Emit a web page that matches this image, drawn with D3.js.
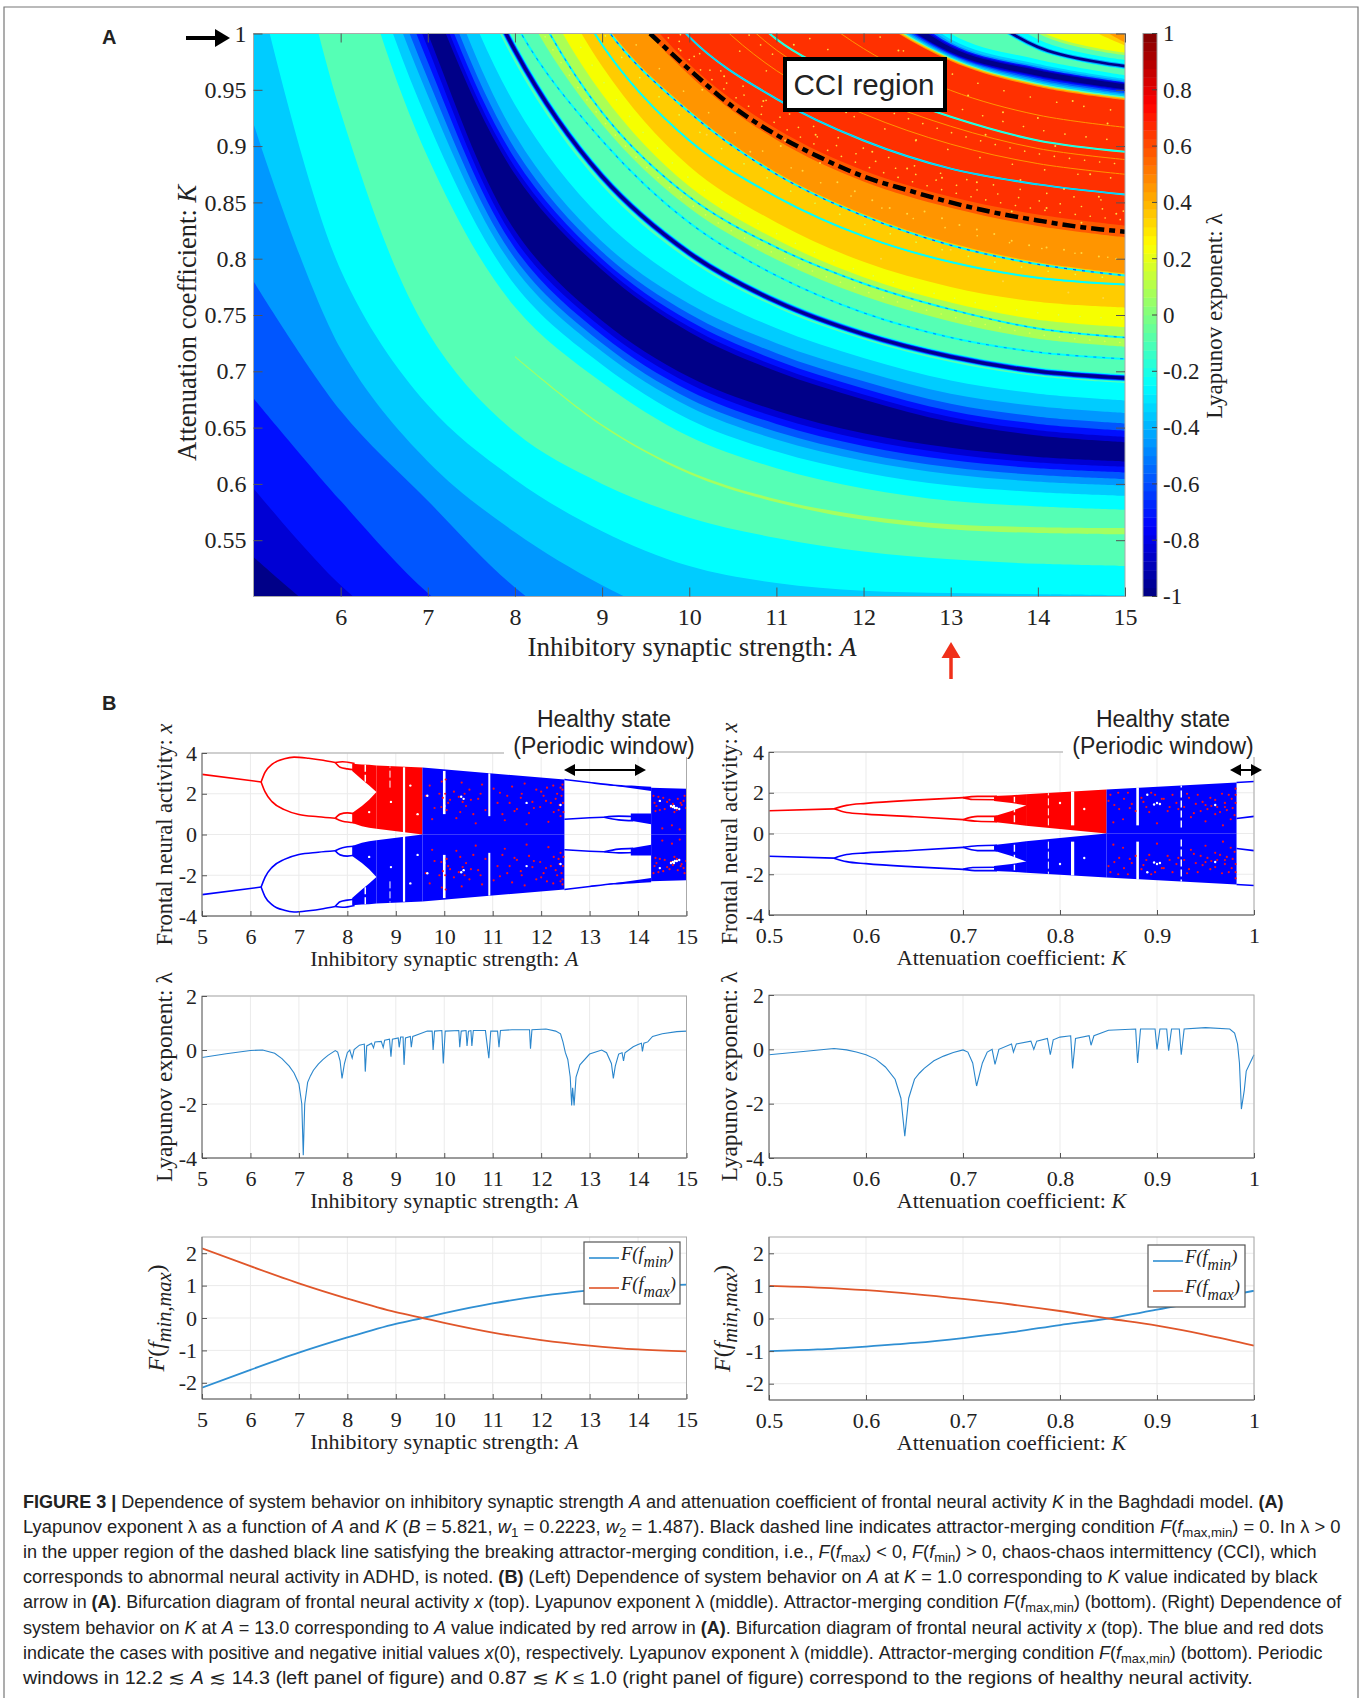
<!DOCTYPE html>
<html><head><meta charset="utf-8">
<script src="https://cdnjs.cloudflare.com/ajax/libs/d3/7.8.5/d3.min.js"></script>
<style>
html,body{margin:0;padding:0;background:#fff}
svg{display:block}
text{font-family:"Liberation Serif",serif;fill:#222}
.sans{font-family:"Liberation Sans",Arial,sans-serif}
</style></head><body><div id="c"></div>
<script>
// ---------- DATA: panel A, iso-curves of the parameter plane ----------
const isoA=[5,6,7,8,9,10,11,12,13,14,15];
const isoU=[1,2,3,4,4.7,5.27,5.725,6.25,6.45,6.97,7.2,7.48,7.9,8.09,8.37,8.65,8.9,9.15,9.55,9.97,10.9,12.45,12.65,13,13.5,14.05,14.83,15];
const isoK=[
[.535,.47,.42,.38,.35,.33,.32,.31,.31,.31,.31],
[.596,.51,.45,.405,.375,.35,.34,.33,.33,.33,.33],
[.676,.585,.503,.445,.405,.38,.365,.355,.35,.35,.35],
[.78,.665,.585,.508,.455,.42,.40,.39,.38,.38,.38],
[.92,.72,.62,.557,.51,.475,.45,.43,.42,.415,.41],
[1.06,.79,.67,.604,.558,.527,.512,.505,.503,.502,.501],
[1.25,.93,.735,.646,.6,.57,.552,.54,.533,.529,.527],
[1.35,1.05,.85,.713,.652,.61,.585,.57,.562,.559,.558],
[1.5,1.12,.89,.757,.69,.642,.614,.596,.585,.58,.577],
[1.6,1.22,1.0,.825,.745,.695,.665,.645,.632,.624,.62],
[1.65,1.28,1.04,.875,.79,.735,.70,.675,.655,.643,.637],
[1.7,1.33,1.09,.91,.815,.76,.725,.70,.68,.669,.663],
[1.85,1.45,1.17,.985,.873,.805,.762,.733,.713,.70,.694],
[1.9,1.5,1.22,1.01,.905,.832,.785,.752,.73,.717,.711],
[1.95,1.55,1.28,1.06,.93,.855,.81,.778,.755,.738,.73],
[2.0,1.6,1.33,1.11,.965,.875,.825,.79,.768,.755,.75],
[2.05,1.65,1.37,1.15,.99,.905,.855,.82,.797,.783,.777],
[2.1,1.7,1.41,1.18,1.01,.93,.875,.838,.812,.795,.785],
[2.2,1.75,1.46,1.23,1.06,.968,.91,.873,.85,.834,.824],
[2.3,1.8,1.5,1.28,1.11,.997,.942,.905,.88,.866,.857],
[2.4,1.9,1.6,1.36,1.2,1.08,.995,.955,.926,.905,.895],
[2.6,2.1,1.8,1.55,1.35,1.2,1.11,1.025,.978,.955,.943],
[2.65,2.15,1.85,1.58,1.38,1.23,1.13,1.04,.985,.965,.953],
[2.7,2.2,1.9,1.62,1.42,1.27,1.16,1.08,1.0,.977,.963],
[2.8,2.3,1.95,1.68,1.48,1.32,1.21,1.12,1.04,.988,.971],
[2.9,2.4,2.0,1.72,1.52,1.36,1.25,1.16,1.08,1.003,.983],
[3.0,2.5,2.1,1.78,1.58,1.42,1.3,1.21,1.12,1.04,.992],
[3.1,2.6,2.2,1.85,1.62,1.46,1.34,1.25,1.16,1.08,1.0]];
const levelColors=["#000088","#0000d4","#0010ff","#0056ff","#0098ff","#00ccff","#00ffff","#55ffb5","#aaff55","#f6ff00","#ffcc00","#ff9500","#ff5a00","#ff3000"];
const bandU=[1,2,3,4,4.7,5.27,5.725,6.45,6.6,6.71,6.78,6.85,6.91,6.97,7.2,7.25,7.31,7.38,7.48,7.63,7.84,8.25,8.5,8.71,9.17,9.5,9.62,12.38,12.41,12.44,12.47,12.5,12.53,12.56,12.58,12.6,12.72,12.75,12.78,12.82,12.88,13,13.45,13.75,13.95,14.05,14.6,14.83];
const bandLevel=[1,2,3,4,5,6,7,6,5,4,3,2,1,0,1,2,3,4,5,6,7,8,9,10,11,12,13,11,10,7,5,4,3,2,1,0,1,2,4,5,6,7,6,7,8,9,10,11];
// faint line along u = 6.25
const faintA=[8,9,10,11,12,13,14,15];
const faintW=[.0005,.0008,.0011,.0014,.0018,.0022,.0026,.0028];
// thin dips drawn along iso-curves: u, halo level, core level
const dipU=[8.09,8.37,8.9,9.15,9.97,10.9];
const dipHalo=[6,6,6,6,6,7];
const dipCore=[4,4,6,3,5,6];
const stripeU=[10.41,10.73,11.6];
const dotU=[8.3,8.6,9.05,9.3,9.68,9.78,9.88,10.3,10.62,11.2,12.05];
const specA=[9.9,10.15,10.4,10.6,10.85,11.1,11.3,11.5,11.7,11.9,12.1,12.3,12.5,12.7,12.9,13.1,13.3,13.5,13.7,13.9,14.1,14.3,14.5,14.7,14.9,11.6,12,12.4,12.8,13.2,13.6,14,14.4,14.8,11.2,11.8,12.6,13.4,14.2,14.6,13.8,14.3,14.7,13.7,14.1,14.5,14.9,13.3,12.9,12.5,12.1,10.7,11.05,11.45,10.2,13.6,14.35,14.75,12.2,13];
const specK=[.985,.95,.962,.93,.94,.905,.878,.885,.868,.86,.852,.845,.84,.842,.836,.83,.826,.822,.816,.812,.81,.808,.805,.802,.8,.975,.965,.985,.96,.945,.93,.925,.94,.92,.99,.93,.905,.91,.9,.875,.87,.862,.855,.842,.845,.832,.84,.868,.872,.88,.895,.895,.9,.91,.91,.78,.77,.765,.8,.808];
const dashA=[9.55,10,10.5,11,11.5,12,12.5,13,13.5,14,14.5,15];
const dashK=[1,.968,.935,.91,.89,.873,.861,.85,.841,.834,.828,.824];
const heatXTicks=[6,7,8,9,10,11,12,13,14,15];
const heatYTicks=[.55,.6,.65,.7,.75,.8,.85,.9,.95,1];
const cbarTicks=[-1,-.8,-.6,-.4,-.2,0,.2,.4,.6,.8,1];
const jetStops=[-1,-.75,-.25,.25,.75,1];
const jetColors=["#000080","#0000ff","#00ffff","#ffff00","#ff0000","#800000"];

// ---------- DATA: panel B bifurcation, A axis ----------
const lStemA=[5,6.22], lStemX=[2.95,2.58];
const lUpA=[6.22,6.3,6.45,6.7,6.9,7.2,7.5,7.75], lUpX=[2.58,3.05,3.45,3.72,3.8,3.74,3.64,3.53];
const lLoA=[6.22,6.3,6.45,6.7,7,7.4,7.75], lLoX=[2.58,2.1,1.6,1.22,.98,.87,.8];
const lEye1A=[7.75,7.9,8.15], lEye1X=[3.53,3.57,3.48];
const lEye2A=[7.75,7.85,8,8.15], lEye2X=[3.53,3.3,3.22,3.18];
const lEye3A=[7.75,7.85,8,8.15], lEye3X=[.8,1.0,1.06,1.02];
const lEye4A=[7.75,7.9,8.15], lEye4X=[.8,.65,.58];
const lBandA=[8.1,8.3,8.45,8.6];
const lBandTopHi=[3.47,3.44,3.42,3.39], lBandTopLo=[3.12,2.7,2.4,2.09];
const lBandBotHi=[1.05,1.4,1.7,2.09], lBandBotLo=[.56,.4,.33,.28];
const lMainA=[8.6,9.55], lMainHi=[3.39,3.29], lMainLo=[.28,0];
const lFullA=[9.55,12.48], lFullHi=[3.29,2.7];
const lWinOutA=[12.48,13,13.5,14,14.27], lWinOutX=[2.7,2.55,2.42,2.34,2.3];
const lWinEdgeA=[13.3,13.8,14.27], lWinEdgeHi=[2.48,2.36,2.3], lWinEdgeLo=[2.46,2.3,2.13];
const lWinInA=[12.48,13,13.3], lWinInX=[.75,.82,.85];
const lWinEye1A=[13.3,13.6,13.9], lWinEye1X=[.85,.9,.88];
const lWinEye2A=[13.3,13.6,13.9], lWinEye2X=[.85,.72,.68];
const lWinBandA=[13.85,14.27], lWinBandHi=[1.03,1.03], lWinBandLo=[.68,.5];
const lTailA=[14.27,15], lTailHi=[2.3,2.24];
const lStripeA=[8.37,8.88,9.17,10,10.93], lStripeLo=[2.1,2.3,.06,1,.9], lStripeHi=[3.42,3.34,3.3,3.12,3.0], lStripeW=[1.5,1,2.2,2.6,2];
const lRedA=[9.62,9.7,9.8,9.9,9.95,10.05,10.12,10.2,10.3,10.36,10.45,10.52,10.6,10.7,10.78,10.85,11.02,11.1,11.2,11.3,11.4,11.5,11.58,11.66,11.75,11.82,11.9,11.98,12.05,12.12,12.2,12.26,12.33,12.38,12.44,14.32,14.38,14.45,14.52,14.6,14.68,14.75,14.82,14.9,14.96,9.75,10.25,10.65,11.25,11.7,12.15,12.4,9.97,10.03,10.08,10.38,10.42,10.33,10.02,9.94,11.45,11.6,11.85,12.1,12.3,12.42,12.45,12.46,12.44,12.4,12.36,12.25,12.0,11.35,11.15,10.75,10.55,14.34,14.42,14.55,14.65,14.72,14.8,14.88,14.94,14.99,14.36,14.5,14.7,14.86];
const lRedX=[1.9,2.4,1.3,2.0,2.6,1.2,1.7,2.1,1.85,2.55,1.4,2.2,1.0,1.75,2.45,1.2,2.25,1.55,1.0,1.9,2.35,1.25,1.8,2.5,1.05,1.6,2.2,1.35,1.9,2.3,1.55,1.1,2.0,1.45,2.45,1.9,1.4,1.2,1.8,1.6,1.35,1.1,1.75,1.45,1.9,.75,.8,.55,.7,.5,.62,.9,1.8,2.7,1.55,1.6,2.0,1.1,2.0,1.35,1.15,2.0,1.3,1.65,1.75,1.9,1.55,1.1,2.2,2.3,1.2,2.4,2.1,1.55,2.05,2.0,1.7,1.55,1.85,1.25,1.7,1.5,1.2,1.55,1.65,1.3,1.15,.3,.45,.25,.15];
const lWhiteA=[9.65,10,10.35,10.4,11.7,12.4,14.72,14.76,14.68,14.45,14.85,14.74,14.8,8.45,8.9,9.3,9.45];
const lWhiteX=[1.9,1.4,1.85,1.75,1.55,1.45,1.35,1.3,1.4,1.65,1.25,1.4,1.3,1.1,1.6,2.4,1.0];
// ---------- DATA: panel B bifurcation, K axis ----------
const rStemK=[.5,.567], rStemX=[1.12,1.21];
const rUpK=[.567,.58,.6,.65,.7], rUpX=[1.21,1.38,1.48,1.64,1.76];
const rLoK=[.567,.58,.6,.65,.7], rLoX=[1.21,1.03,.95,.82,.68];
const rEye1K=[.7,.715,.735], rEye1X=[1.76,1.82,1.82];
const rEye2K=[.7,.71,.735], rEye2X=[1.76,1.67,1.66];
const rEye3K=[.7,.715,.735], rEye3X=[.68,.84,.84];
const rEye4K=[.7,.715,.735], rEye4X=[.68,.6,.58];
const rBandK=[.732,.75,.765];
const rBandTopHi=[1.84,1.88,1.93], rBandTopLo=[1.6,1.5,1.38];
const rBandBotHi=[.85,1.1,1.38], rBandBotLo=[.56,.47,.38];
const rMainK=[.765,.848], rMainHi=[1.93,2.16], rMainLo=[.38,0];
const rFullK=[.848,.982], rFullHi=[2.16,2.5];
const rWinOutK=[.982,1], rWinOutX=[2.5,2.55];
const rWinInK=[.982,1], rWinInX=[.74,.84];
const rStripeK=[.753,.788,.813,.88,.925], rStripeLo=[.55,.4,.4,.4,.3], rStripeHi=[1.8,1.98,2.06,2.26,2.35], rStripeW=[1.4,1,3.2,2.6,1.4];
const rRedK=[.852,.856,.861,.866,.87,.874,.878,.884,.889,.894,.898,.903,.907,.911,.916,.92,.928,.933,.938,.942,.947,.952,.956,.96,.965,.97,.974,.978,.98,.855,.865,.9,.935,.95,.968,.976,.85,.86,.872,.886,.892,.905,.913,.922,.931,.94,.945,.955,.962,.967,.972,.977,.981,.981,.981,.95,.96,.97];
const rRedX=[1.9,1.4,1.2,1.7,2.0,1.45,1.1,1.75,1.3,2.0,1.9,1.45,1.7,1.1,1.9,1.5,1.3,1.75,1.0,1.9,1.55,1.2,1.35,1.65,1.05,1.5,1.9,1.25,.9,.55,.7,.5,.8,.6,.4,.7,1.6,2.0,1.25,1.55,1.05,1.7,1.3,1.2,1.95,1.45,1.1,1.75,1.3,1.95,1.15,1.7,1.5,1.9,2.2,1.4,.95,1.3];
const rWhiteK=[.9,.903,.897,.89,.96,.825,.8];
const rWhiteX=[1.5,1.45,1.42,1.9,1.4,1.2,1.5];

// ---------- DATA: Lyapunov lines ----------
const lyA=[5,5.5,6,6.25,6.5,6.65,6.8,6.9,7,7.06,7.09,7.12,7.18,7.24,7.3,7.4,7.5,7.6,7.75,7.8,7.85,7.89,7.94,8,8.05,8.1,8.14,8.25,8.35,8.37,8.4,8.5,8.54,8.57,8.7,8.74,8.77,8.87,8.9,8.93,9.05,9.07,9.1,9.15,9.17,9.2,9.3,9.32,9.35,9.5,9.65,9.75,9.77,9.8,9.95,9.98,10.02,10.3,10.32,10.35,10.45,10.47,10.5,10.55,10.57,10.6,10.85,10.92,10.96,11.1,11.13,11.16,11.4,11.76,11.78,11.81,12.1,12.3,12.4,12.45,12.5,12.55,12.6,12.63,12.65,12.68,12.72,12.8,13,13.25,13.35,13.45,13.49,13.53,13.6,13.67,13.7,13.73,13.9,14,14.07,14.09,14.12,14.2,14.3,14.5,14.8,15];
const lyAVal=[-.28,-.14,-.02,0,-.12,-.32,-.6,-.85,-1.25,-2,-3.9,-2,-1.2,-.95,-.75,-.52,-.35,-.2,-.02,-.08,-.4,-1.05,-.5,-.1,0,-.3,.02,.18,.22,-.8,.15,.25,.08,.3,.32,.1,.36,.4,-.25,.4,.45,.1,.48,.48,-.55,.45,.5,.1,.5,.6,.7,.7,0,.7,.72,-.5,.7,.72,.1,.7,.72,.15,.7,.72,.15,.72,.72,-.3,.7,.7,.1,.72,.75,.75,.05,.75,.78,.7,.6,.3,-.1,-.35,-1,-2.05,-1.4,-2.05,-1,-.55,-.15,0,-.1,-.5,-1.05,-.6,-.15,-.1,-.4,-.1,.12,.2,.25,-.05,.25,.3,.5,.6,.68,.7];
const lyK=[.5,.53,.567,.58,.59,.6,.61,.62,.63,.636,.64,.644,.65,.655,.66,.67,.68,.69,.7,.705,.71,.714,.72,.725,.73,.733,.737,.75,.752,.755,.77,.773,.776,.787,.79,.793,.8,.811,.813,.816,.83,.832,.835,.85,.878,.88,.883,.898,.9,.903,.91,.912,.915,.923,.925,.928,.95,.975,.98,.983,.985,.987,.99,.992,1];
const lyKVal=[-.2,-.1,.03,-.02,-.1,-.2,-.36,-.65,-1.1,-1.8,-3.2,-1.8,-1.1,-.88,-.7,-.42,-.25,-.12,-.02,-.1,-.5,-1.35,-.5,-.1,0,-.55,0,.2,-.1,.2,.3,0,.3,.4,-.2,.35,.45,.5,-.7,.4,.5,.15,.5,.7,.75,-.5,.75,.75,0,.75,.75,-.05,.75,.75,-.2,.75,.8,.75,.6,.2,-.5,-2.2,-1.5,-.8,-.2];
// ---------- DATA: attractor-merging lines ----------
const fA=[5,6,7,8,9,9.55,10,11,12,13,14,15];
const fAMin=[-2.15,-1.6,-1.07,-.6,-.18,0,.15,.45,.68,.85,.97,1.03];
const fAMax=[2.15,1.6,1.07,.6,.18,0,-.15,-.45,-.68,-.85,-.97,-1.03];
const fK=[.5,.55,.6,.65,.7,.75,.8,.85,.9,.95,1];
const fKMin=[-1,-.95,-.86,-.75,-.6,-.42,-.2,0,.27,.57,.85];
const fKMax=[1,.95,.87,.75,.6,.43,.23,0,-.22,-.5,-.83];
const aTicks=[5,6,7,8,9,10,11,12,13,14,15];
const kTicks=[.5,.6,.7,.8,.9,1];
const captionLines=[
"<b>FIGURE 3 |</b> Dependence of system behavior on inhibitory synaptic strength <i>A</i> and attenuation coefficient of frontal neural activity <i>K</i> in the Baghdadi model. <b>(A)</b>",
"Lyapunov exponent λ as a function of <i>A</i> and <i>K</i> (<i>B</i> = 5.821, <i>w</i><s>1</s> = 0.2223, <i>w</i><s>2</s> = 1.487). Black dashed line indicates attractor-merging condition <i>F</i>(<i>f</i><s>max,min</s>) = 0. In λ > 0",
"in the upper region of the dashed black line satisfying the breaking attractor-merging condition, i.e., <i>F</i>(<i>f</i><s>max</s>) < 0, <i>F</i>(<i>f</i><s>min</s>) > 0, chaos-chaos intermittency (CCI), which",
"corresponds to abnormal neural activity in ADHD, is noted. <b>(B)</b> (Left) Dependence of system behavior on <i>A</i> at <i>K</i> = 1.0 corresponding to <i>K</i> value indicated by black",
"arrow in <b>(A)</b>. Bifurcation diagram of frontal neural activity <i>x</i> (top). Lyapunov exponent λ (middle). Attractor-merging condition <i>F</i>(<i>f</i><s>max,min</s>) (bottom). (Right) Dependence of",
"system behavior on <i>K</i> at <i>A</i> = 13.0 corresponding to <i>A</i> value indicated by red arrow in <b>(A)</b>. Bifurcation diagram of frontal neural activity <i>x</i> (top). The blue and red dots",
"indicate the cases with positive and negative initial values <i>x</i>(0), respectively. Lyapunov exponent λ (middle). Attractor-merging condition <i>F</i>(<i>f</i><s>max,min</s>) (bottom). Periodic",
"windows in 12.2 ≲ <i>A</i> ≲ 14.3 (left panel of figure) and 0.87 ≲ <i>K</i> ≤ 1.0 (right panel of figure) correspond to the regions of healthy neural activity."];
const captionEnd=[1285,1341,1317,1318,1342,1325,1323,1253];

// ---------- DRAW ----------
const W=1362,H=1698;
const svg=d3.select("#c").append("svg").attr("width",W).attr("height",H);
const defs=svg.append("defs");
let clipN=0;
function clip(r){const id="cl"+(clipN++);defs.append("clipPath").attr("id",id).append("rect").attr("x",r.x0).attr("y",r.y0).attr("width",r.x1-r.x0).attr("height",r.y1-r.y0);return id;}
function rich(sel,str){
  const parts=str.split(/(<b>.*?<\/b>|<i>.*?<\/i>|<s>.*?<\/s>|<u>.*?<\/u>)/).filter(d=>d);
  let pend=0;
  parts.forEach(p=>{
    const m=p.match(/^<(b|i|s|u)>(.*)<\/\1>$/);
    const t=sel.append("tspan").text(m?m[2]:p);
    if(pend){t.attr("dy",pend);pend=0;}
    if(m&&m[1]=="b")t.attr("font-weight","bold");
    if(m&&m[1]=="i")t.attr("font-style","italic");
    if(m&&m[1]=="s"){t.attr("font-size","0.72em").attr("dy",4);pend=-4;}
    if(m&&m[1]=="u"){t.attr("font-size","0.85em").attr("font-style","italic").attr("dy",7);pend=-7;}
  });
}
function fmt(d){return String(+d.toFixed(2));}

// Frame
svg.append("path").attr("d",`M4,${H}V7H1358V${H}`).attr("fill","none").attr("stroke","#777").attr("stroke-width",1.2);

// ---------- Panel A ----------
const HR={x0:253.5,x1:1125,y0:33.5,y1:596.5};
const hx=d3.scaleLinear().domain([5,15]).range([HR.x0,HR.x1]);
const hy=d3.scaleLinear().domain([.5,1]).range([HR.y1,HR.y0]);
const cp=clip(HR);
const gH=svg.append("g").attr("clip-path",`url(#${cp})`);
gH.append("rect").attr("x",HR.x0).attr("y",HR.y0).attr("width",HR.x1-HR.x0).attr("height",HR.y1-HR.y0).attr("fill",levelColors[0]);
const colScales=isoA.map((a,i)=>d3.scaleLinear().domain(isoU).range(isoK.map(r=>r[i])));
const smooth=d3.curveCatmullRom.alpha(.5);
const isoPts=u=>isoA.map((a,j)=>[a,colScales[j](u)]);
const bandArea=d3.area().x(d=>hx(d[0])).y0(d=>hy(d[1])).y1(-50).curve(smooth);
bandU.forEach((u,i)=>{
  gH.append("path").attr("d",bandArea(isoPts(u))).attr("fill",levelColors[bandLevel[i]]);
});
const isoLine=d3.line().x(d=>hx(d[0])).y(d=>hy(d[1])).curve(smooth);
function drawIso(u,col,w,dash,cap){
  gH.append("path").attr("d",isoLine(isoPts(u))).attr("fill","none").attr("stroke",col).attr("stroke-width",w)
   .attr("stroke-dasharray",dash||null).attr("stroke-linecap",cap||null);
}
// faint u=6.25 ridge
const colFaint=a=>colScales[isoA.indexOf(a)](6.25);
gH.append("path").attr("d",d3.area().x(d=>hx(d)).curve(smooth)
   .y0((d,i)=>hy(colFaint(d)-faintW[i])).y1((d,i)=>hy(colFaint(d)+faintW[i]))(faintA)).attr("fill","#a4ff60");
stripeU.forEach(u=>drawIso(u,levelColors[11],1));
dotU.forEach((u,i)=>drawIso(u,u<9.3?"#d8ff50":"#ffd840",1.6,`0.1,${15+(i%4)*6}`,"round"));
dipU.forEach((u,i)=>{
  drawIso(u,levelColors[dipHalo[i]],2);
  drawIso(u,levelColors[dipCore[i]],1.1,i==3||i==0||i==1?"3,6":null);
});
// main thin navy ridge at u=7.9 and u=13.5
[[7.9,[[6,7.5],[4,5.8],[2,4.5],[0,3]]],[13.5,[[6,6],[4,4.5],[0,2.6]]]].forEach(([u,ls])=>ls.forEach(([l,w])=>drawIso(u,levelColors[l],w)));
gH.selectAll("circle.sp").data(specA).join("circle").attr("cx",d=>hx(d)).attr("cy",(d,i)=>hy(specK[i])).attr("r",1).attr("fill","#ffd840");
gH.append("path").attr("d",d3.line().x(d=>hx(d)).y((d,i)=>hy(dashK[i])).curve(smooth)(dashA))
  .attr("fill","none").attr("stroke","#000").attr("stroke-width",4.5).attr("stroke-dasharray","13,5,6,5");

function box(r,opt){
  opt=opt||{};
  svg.append("rect").attr("x",r.x0).attr("y",r.y0).attr("width",r.x1-r.x0).attr("height",r.y1-r.y0).attr("fill","none").attr("stroke",opt.stroke||"#999").attr("stroke-width",opt.sw||1);
}
function inAxis(g,axis,fs,col){
  g.call(axis);g.select(".domain").remove();
  g.selectAll("line").attr("stroke",col||"#555");
  g.selectAll("text").attr("font-size",fs).attr("font-family","Liberation Serif").attr("fill","#222");
}
box(HR,{stroke:"#aaa"});
inAxis(svg.append("g").attr("transform",`translate(0,${HR.y1})`),d3.axisBottom(hx).tickValues(heatXTicks).tickSize(-9).tickPadding(11).tickFormat(fmt),24);
inAxis(svg.append("g").attr("transform",`translate(0,${HR.y0})`),d3.axisTop(hx).tickValues(heatXTicks).tickSize(-9).tickFormat(""),24);
inAxis(svg.append("g").attr("transform",`translate(${HR.x0},0)`),d3.axisLeft(hy).tickValues(heatYTicks).tickSize(-9).tickPadding(7).tickFormat(fmt),24);
inAxis(svg.append("g").attr("transform",`translate(${HR.x1},0)`),d3.axisRight(hy).tickValues(heatYTicks).tickSize(-9).tickFormat(""),24);
svg.append("text").attr("x",692).attr("y",656).attr("text-anchor","middle").attr("font-size",27).call(s=>rich(s,"Inhibitory synaptic strength: <i>A</i>"));
svg.append("text").attr("transform","translate(196,323) rotate(-90)").attr("text-anchor","middle").attr("font-size",26.5).call(s=>rich(s,"Attenuation coefficient: <i>K</i>"));

// colorbar
const CB={x0:1143,x1:1157,y0:33.5,y1:596.5};
const cy=d3.scaleLinear().domain([-1,1]).range([CB.y1,CB.y0]);
const jet=d3.scaleLinear().domain(jetStops).range(jetColors);
const cbVals=d3.range(64).map(i=>-1+i/32);
svg.selectAll("rect.cb").data(cbVals).join("rect").attr("x",CB.x0).attr("width",CB.x1-CB.x0)
  .attr("y",d=>cy(d+1/32)).attr("height",d=>cy(d)-cy(d+1/32)+.4).attr("fill",d=>jet(d+1/64));
box(CB,{stroke:"#999"});
inAxis(svg.append("g").attr("transform",`translate(${CB.x1},0)`),d3.axisRight(cy).tickValues(cbarTicks).tickSize(0).tickPadding(6).tickFormat(fmt),23);
svg.append("text").attr("transform","translate(1222,316) rotate(-90)").attr("text-anchor","middle").attr("font-size",23).text("Lyapunov exponent: λ");
cbarTicks.forEach(t=>svg.append("line").attr("x1",CB.x1-5).attr("x2",CB.x1).attr("y1",cy(t)).attr("y2",cy(t)).attr("stroke","#444"));

// annotations A
svg.append("text").attr("class","sans").attr("x",102).attr("y",44).attr("font-size",20).attr("font-weight","bold").attr("fill","#111").text("A");
svg.append("text").attr("class","sans").attr("x",102).attr("y",710).attr("font-size",20).attr("font-weight","bold").attr("fill","#111").text("B");
function arrowH(x0,x1,y,col,sw,hl,hw,both){
  svg.append("line").attr("x1",x0+(both?hl:0)).attr("x2",x1-hl).attr("y1",y).attr("y2",y).attr("stroke",col).attr("stroke-width",sw);
  svg.append("path").attr("d",`M${x1},${y}L${x1-hl},${y-hw}V${y+hw}Z`).attr("fill",col);
  if(both)svg.append("path").attr("d",`M${x0},${y}L${x0+hl},${y-hw}V${y+hw}Z`).attr("fill",col);
}
arrowH(186,230,38,"#000",4,15,9,false);
svg.append("line").attr("x1",951).attr("x2",951).attr("y1",679).attr("y2",655).attr("stroke","#f0301a").attr("stroke-width",3.5);
svg.append("path").attr("d","M951,642L941.5,658H960.5Z").attr("fill","#f0301a");
svg.append("rect").attr("x",785).attr("y",59).attr("width",160).attr("height",51).attr("fill","#fff").attr("stroke","#000").attr("stroke-width",4);
svg.append("text").attr("class","sans").attr("x",864).attr("y",95).attr("text-anchor","middle").attr("font-size",29.5).attr("fill","#111").text("CCI region");

// ---------- Panel B helpers ----------
function panel(r,xd,yd,xt,yt,xLabel,yLabel,yLabelX,yFs){
  const x=d3.scaleLinear().domain(xd).range([r.x0,r.x1]);
  const y=d3.scaleLinear().domain(yd).range([r.y1,r.y0]);
  const g=svg.append("g");
  g.selectAll("line.gx").data(xt).join("line").attr("x1",d=>x(d)).attr("x2",d=>x(d)).attr("y1",r.y0).attr("y2",r.y1).attr("stroke","#ebebeb");
  g.selectAll("line.gy").data(yt).join("line").attr("y1",d=>y(d)).attr("y2",d=>y(d)).attr("x1",r.x0).attr("x2",r.x1).attr("stroke","#ebebeb");
  const m=svg.append("g").attr("clip-path",`url(#${clip({x0:r.x0,x1:r.x1+1,y0:r.y0,y1:r.y1})})`);
  return {x,y,m,finish(){
    box(r,{stroke:"#aaa"});
    svg.append("line").attr("x1",r.x0).attr("x2",r.x1).attr("y1",r.y1).attr("y2",r.y1).attr("stroke","#666");
    svg.append("line").attr("x1",r.x0).attr("x2",r.x0).attr("y1",r.y0).attr("y2",r.y1).attr("stroke","#777");
    inAxis(svg.append("g").attr("transform",`translate(0,${r.y1})`),d3.axisBottom(x).tickValues(xt).tickSize(-5).tickPadding(12).tickFormat(fmt),22);
    inAxis(svg.append("g").attr("transform",`translate(${r.x0},0)`),d3.axisLeft(y).tickValues(yt).tickSize(-5).tickPadding(5).tickFormat(fmt),22);
    svg.append("text").attr("x",(r.x0+r.x1)/2).attr("y",r.y1+50).attr("text-anchor","middle").attr("font-size",22).call(s=>rich(s,xLabel));
    svg.append("text").attr("transform",`translate(${yLabelX},${(r.y0+r.y1)/2}) rotate(-90)`).attr("text-anchor","middle").attr("font-size",yFs).call(s=>rich(s,yLabel));
  }};
}
function stroke(p,xs,ys,col,sgn,w){
  p.m.append("path").attr("d",d3.line().x(d=>p.x(d)).y((d,i)=>p.y(sgn*ys[i])).curve(d3.curveMonotoneX)(xs)).attr("fill","none").attr("stroke",col).attr("stroke-width",w||1.6);
}
function fill(p,xs,hi,lo,col,sgn){
  p.m.append("path").attr("d",d3.area().x(d=>p.x(d)).y0((d,i)=>p.y(sgn*lo[i])).y1((d,i)=>p.y(sgn*hi[i]))(xs)).attr("fill",col);
}
function stripes(p,xs,lo,hi,w,sgn){
  xs.forEach((v,i)=>p.m.append("line").attr("x1",p.x(v)).attr("x2",p.x(v)).attr("y1",p.y(sgn*lo[i])).attr("y2",p.y(sgn*hi[i])).attr("stroke","#fff").attr("stroke-width",w[i]).attr("stroke-dasharray",w[i]<1.6?"7,3":null));
}
function dots(p,xs,ys,col,r){
  [1,-1].forEach(s=>p.m.selectAll(null).data(xs).join("circle").attr("cx",d=>p.x(d)).attr("cy",(d,i)=>p.y(s*ys[i])).attr("r",r).attr("fill",col));
}
const xLabA="Inhibitory synaptic strength: <i>A</i>", xLabK="Attenuation coefficient: <i>K</i>";

// Bifurcation left
const P1=panel({x0:202,x1:686.5,y0:753,y1:916},[5,15],[-4,4],aTicks,[-4,-2,0,2,4],xLabA,"Frontal neural activity: <i>x</i>",172,22.5);
[[1,"#ff0000"],[-1,"#0000ff"]].forEach(([s,c])=>{
  stroke(P1,lStemA,lStemX,c,s);stroke(P1,lUpA,lUpX,c,s);stroke(P1,lLoA,lLoX,c,s);
  [[lEye1A,lEye1X],[lEye2A,lEye2X],[lEye3A,lEye3X],[lEye4A,lEye4X]].forEach(e=>stroke(P1,e[0],e[1],c,s));
  fill(P1,lBandA,lBandTopHi,lBandTopLo,c,s);fill(P1,lBandA,lBandBotHi,lBandBotLo,c,s);
  fill(P1,lMainA,lMainHi,lMainLo,c,s);
  stripes(P1,lStripeA.slice(0,3),lStripeLo,lStripeHi,lStripeW,s);
});
const zero2=lFullA.map(()=>0);
[1,-1].forEach(s=>{
  fill(P1,lFullA,lFullHi,zero2,"#0000ff",s);
  fill(P1,lTailA,lTailHi,lTailA.map(()=>0),"#0000ff",s);
  stroke(P1,lWinOutA,lWinOutX,"#0000ff",s);
  fill(P1,lWinEdgeA,lWinEdgeHi,lWinEdgeLo,"#0000ff",s);
  stroke(P1,lWinInA,lWinInX,"#0000ff",s);
  stroke(P1,lWinEye1A,lWinEye1X,"#0000ff",s);
  stroke(P1,lWinEye2A,lWinEye2X,"#0000ff",s);
  fill(P1,lWinBandA,lWinBandHi,lWinBandLo,"#0000ff",s);
  stripes(P1,lStripeA.slice(3),lStripeLo.slice(3),lStripeHi.slice(3),lStripeW.slice(3),s);
});
dots(P1,lRedA,lRedX,"#f01020",1.1);
dots(P1,lWhiteA,lWhiteX,"#fff",1.2);
P1.finish();
// Bifurcation right
const P2=panel({x0:769,x1:1254,y0:752,y1:915},[.5,1],[-4,4],kTicks,[-4,-2,0,2,4],xLabK,"Frontal neural activity: <i>x</i>",737,22.5);
[[1,"#ff0000"],[-1,"#0000ff"]].forEach(([s,c])=>{
  stroke(P2,rStemK,rStemX,c,s);stroke(P2,rUpK,rUpX,c,s);stroke(P2,rLoK,rLoX,c,s);
  [[rEye1K,rEye1X],[rEye2K,rEye2X],[rEye3K,rEye3X],[rEye4K,rEye4X]].forEach(e=>stroke(P2,e[0],e[1],c,s));
  fill(P2,rBandK,rBandTopHi,rBandTopLo,c,s);fill(P2,rBandK,rBandBotHi,rBandBotLo,c,s);
  fill(P2,rMainK,rMainHi,rMainLo,c,s);
  stripes(P2,rStripeK.slice(0,3),rStripeLo,rStripeHi,rStripeW,s);
});
[1,-1].forEach(s=>{
  fill(P2,rFullK,rFullHi,rFullK.map(()=>0),"#0000ff",s);
  stroke(P2,rWinOutK,rWinOutX,"#0000ff",s);
  stroke(P2,rWinInK,rWinInX,"#0000ff",s);
  stripes(P2,rStripeK.slice(3),rStripeLo.slice(3),rStripeHi.slice(3),rStripeW.slice(3),s);
});
dots(P2,rRedK,rRedX,"#f01020",1.1);
dots(P2,rWhiteK,rWhiteX,"#fff",1.2);
P2.finish();
function healthy(cx){
  svg.append("rect").attr("x",cx-100).attr("y",703).attr("width",200).attr("height",54).attr("fill","#fff");
  svg.append("text").attr("class","sans").attr("x",cx).attr("y",727).attr("text-anchor","middle").attr("font-size",23).attr("fill","#111").text("Healthy state");
  svg.append("text").attr("class","sans").attr("x",cx).attr("y",754).attr("text-anchor","middle").attr("font-size",23).attr("fill","#111").text("(Periodic window)");
}
healthy(604);healthy(1163);
arrowH(564,646,770,"#000",2,11,6,true);
arrowH(1230,1262,770,"#000",2,11,6,true);

// Lyapunov lines
const P3=panel({x0:202,x1:686.5,y0:996,y1:1158},[5,15],[-4,2],aTicks,[-4,-2,0,2],xLabA,"Lyapunov exponent: λ",172,23.5);
P3.m.append("path").attr("d",d3.line().x(d=>P3.x(d)).y((d,i)=>P3.y(lyAVal[i]))(lyA)).attr("fill","none").attr("stroke","#2a86cc").attr("stroke-width",1.1);
P3.finish();
const P4=panel({x0:769,x1:1254,y0:995,y1:1158},[.5,1],[-4,2],kTicks,[-4,-2,0,2],xLabK,"Lyapunov exponent: λ",737,23.5);
P4.m.append("path").attr("d",d3.line().x(d=>P4.x(d)).y((d,i)=>P4.y(lyKVal[i]))(lyK)).attr("fill","none").attr("stroke","#2a86cc").attr("stroke-width",1.1);
P4.finish();

// F lines
const blueF="#2f8fd3", orangeF="#e0562a";
const fLab="<i>F</i>(<i>f</i><u>min,max</u>)";
const P5=panel({x0:202,x1:686.5,y0:1237,y1:1399},[5,15],[-2.5,2.5],aTicks,[-2,-1,0,1,2],xLabA,fLab,164,24);
stroke(P5,fA,fAMin,blueF,1,1.8);stroke(P5,fA,fAMax,orangeF,1,1.8);
P5.finish();
const P6=panel({x0:769,x1:1254,y0:1237,y1:1400},[.5,1],[-2.5,2.5],kTicks,[-2,-1,0,1,2],xLabK,fLab,730,24);
stroke(P6,fK,fKMin,blueF,1,1.8);stroke(P6,fK,fKMax,orangeF,1,1.8);
P6.finish();
function legend(x0,y0,w,h){
  svg.append("rect").attr("x",x0).attr("y",y0).attr("width",w).attr("height",h).attr("fill","#fff").attr("stroke","#555").attr("stroke-width",1.2);
  [["min",blueF,16],["max",orangeF,46]].forEach(([t,c,dy])=>{
    svg.append("line").attr("x1",x0+5).attr("x2",x0+35).attr("y1",y0+dy).attr("y2",y0+dy).attr("stroke",c).attr("stroke-width",1.6);
    svg.append("text").attr("x",x0+37).attr("y",y0+dy+2).attr("font-size",18.5).attr("font-style","italic").call(s=>rich(s,`F(f<u>${t}</u>)`));
  });
}
legend(584,1242,96,62);
legend(1148,1245,97,62);

// Caption
captionLines.forEach((ln,i)=>{
  const y=1508+i*25.1;
  const t=svg.append("text").attr("class","sans").attr("font-size",17.5).attr("fill","#1a1a1a").style("font-family","'Liberation Sans',Arial,sans-serif");
  rich(t,ln);
  const w=t.node().getComputedTextLength();
  t.attr("transform",`translate(23,${y}) scale(${(captionEnd[i]-23)/w},1)`);
});
</script></body></html>
